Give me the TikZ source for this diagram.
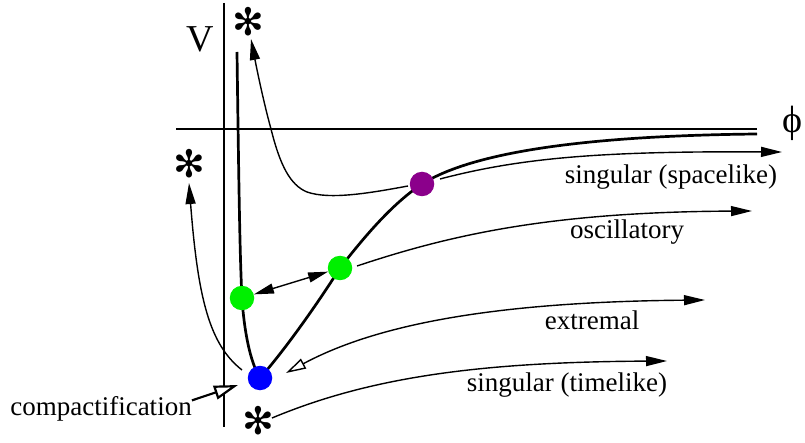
\documentclass[tikz,border=0pt]{standalone}
\usepackage{fontspec}
\setmainfont{Liberation Serif}
\newfontfamily\djv{DejaVu Sans}
\usetikzlibrary{arrows.meta}
\pgfdeclarelayer{bg}
\pgfsetlayers{bg,main}
\begin{document}
\begin{tikzpicture}[x=1pt,y=-1pt,
  thinline/.style={line width=1.4pt},
  axisline/.style={line width=2.7pt},
  potline/.style={line width=2.7pt},
  dot/.style={circle,inner sep=0pt,minimum size=24.5pt,draw=none},
  lab/.style={font=\fontsize{27}{30}\selectfont,inner sep=0pt,anchor=base},
  astk/.style={font=\djv\fontsize{38}{38}\selectfont,inner sep=0pt},
  tip/.style={-{Triangle[length=21pt,width=10pt]}},
  opentip/.style={{Triangle[open,length=20pt,width=11pt,fill=white]}-{Triangle[length=21pt,width=10pt]}}
]
\useasboundingbox (0,0) rectangle (805,443);

% axes
\coordinate (xa0) at (176,129);
\coordinate (xa1) at (757,129);
\coordinate (ya0) at (224,3);
\coordinate (ya1) at (224,427);
\draw[axisline] (xa0) -- (xa1);
\draw[axisline] (ya0) -- (ya1);
\node[font=\fontsize{38}{40}\selectfont,inner sep=0pt,anchor=base] (V) at (200,52) {V};
\node[font=\fontsize{38}{40}\selectfont,inner sep=0pt] (phi) at (792,123) {\symbol{"03D5}};

% dots
\node[dot,fill=blue] (blue) at (260,378) {};
\node[dot,fill={rgb,255:red,0;green,240;blue,0}] (gL) at (242,298) {};
\node[dot,fill={rgb,255:red,0;green,240;blue,0}] (gR) at (340,268) {};
\node[dot,fill={rgb,255:red,139;green,0;blue,139}] (pu) at (422,184) {};

% asterisks
\node[astk] (astT) at (248,22) {✻};
\node[astk] (astL) at (189,164) {✻};
\node[astk] (astB) at (258,421) {✻};

% potential
\coordinate (p0) at (237,52);
\coordinate (p1) at (757,134);
\begin{pgfonlayer}{bg}
\draw[potline] (p0) .. controls (239,200) and (240,260) .. (gL.center)
  .. controls (244,330) and (250,362) .. (blue.center)
  .. controls (285,350) and (320,300) .. (gR.center)
  .. controls (365,236) and (392,204) .. (pu.center)
  .. controls (465,157) and (560,136) .. (p1);
\end{pgfonlayer}

% trajectories
\coordinate (s0) at (440,179);
\coordinate (s1) at (782,152);
\draw[thinline,tip] (s0) .. controls (520,158) and (600,151) .. (s1);
\coordinate (s2) at (408,186);
\coordinate (s3) at (307,192);
\coordinate (s5) at (271,129);
\coordinate (s4) at (251,39);
\draw[thinline,tip] (s2) .. controls (370,193) and (330,200) .. (s3)
  .. controls (290,185) and (280,165) .. (s5)
  .. controls (263,100) and (256,65) .. (s4);

\coordinate (o0) at (357,266);
\coordinate (o1) at (752,211);
\draw[thinline,tip] (o0) .. controls (450,235) and (550,212) .. (o1);
\draw[thinline,{Triangle[length=20pt,width=10pt]}-{Triangle[length=20pt,width=10pt]}] (gL) -- (gR);

\coordinate (e0) at (286,373);
\coordinate (e1) at (705,300);
\draw[thinline,opentip] (e0) .. controls (370,328) and (480,302) .. (e1);

\coordinate (t0) at (272,418);
\coordinate (t1) at (667,361);
\draw[thinline,tip] (t0) .. controls (370,377) and (480,362) .. (t1);

\coordinate (l0) at (242,370);
\coordinate (l1) at (189,183);
\draw[thinline,tip] (l0) .. controls (210,345) and (198,300) .. (l1);

% labels
\node[lab] (lsp) at (671,184) {singular (spacelike)};
\node[lab] (losc) at (627,239) {oscillatory};
\node[lab] (lext) at (592,330) {extremal};
\node[lab] (ltl) at (567,391) {singular (timelike)};
\node[lab] (lcomp) at (101,415) {compactification};
\coordinate (c1) at (238,385);
\draw[line width=2.2pt,-{Triangle[open,length=24pt,width=14pt,fill=white]}] (lcomp.east) ++(0,-8) -- (c1);
\end{tikzpicture}
\end{document}
